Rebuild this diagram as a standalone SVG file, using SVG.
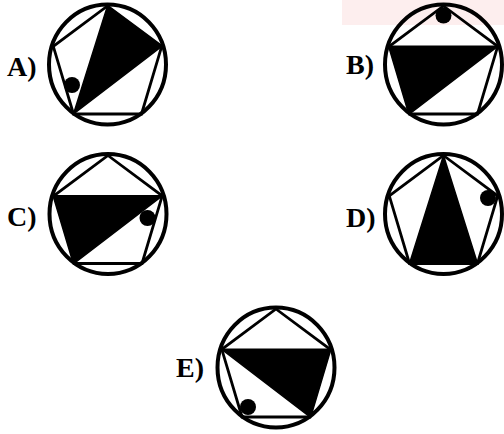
<svg xmlns="http://www.w3.org/2000/svg" xmlns:xlink="http://www.w3.org/1999/xlink" width="504" height="434" viewBox="0 0 504 434">
<style>
.ring{fill:none;stroke:#000;stroke-width:4}
.pent{fill:none;stroke:#000;stroke-width:2.8;stroke-linejoin:miter}
.blk{fill:#000;stroke:#000;stroke-width:1.5;stroke-linejoin:round}
.dot{fill:#000}
.lbl{font-family:"Liberation Serif","Times New Roman",serif;font-weight:bold;font-size:28px;fill:#000}
</style>
<defs>
<g id="frame">
<ellipse class="ring" cx="0" cy="0" rx="58.5" ry="60"/>
<polygon class="pent" points="0,-58.5 54.2,-18.2 34,49.5 -34,49.5 -54.2,-18.2"/>
</g>
</defs>
<rect x="342" y="0" width="162" height="25" fill="#fdeeee"/>
<g id="fig-a" transform="translate(107.5,64.5)">
<polygon class="blk" points="0,-58.5 54.2,-18.2 -34,49.5"/>
<use xlink:href="#frame"/>
<circle class="dot" cx="-35.5" cy="20.5" r="8"/>
</g>
<g id="fig-b" transform="translate(443.5,64.5)">
<polygon class="blk" points="-54.2,-18.2 54.2,-18.2 -34,49.5"/>
<use xlink:href="#frame"/>
<circle class="dot" cx="0" cy="-49" r="8"/>
</g>
<g id="fig-c" transform="translate(108,214)">
<polygon class="blk" points="-54.2,-18.2 54.2,-18.2 -34,49.5"/>
<use xlink:href="#frame"/>
<circle class="dot" cx="39.5" cy="4" r="8"/>
</g>
<g id="fig-d" transform="translate(443.5,214)">
<polygon class="blk" points="0,-58.5 -34,49.5 34,49.5"/>
<use xlink:href="#frame"/>
<circle class="dot" cx="44.5" cy="-16" r="8"/>
</g>
<g id="fig-e" transform="translate(276,367.5)">
<polygon class="blk" points="-54.2,-18.2 54.2,-18.2 34,49.5"/>
<use xlink:href="#frame"/>
<circle class="dot" cx="-28" cy="39.5" r="8"/>
</g>
<g id="labels">
<text class="lbl" x="7" y="76">A)</text>
<text class="lbl" x="346" y="74">B)</text>
<text class="lbl" x="7" y="226">C)</text>
<text class="lbl" x="346" y="227">D)</text>
<text class="lbl" x="176" y="377">E)</text>
</g>
<g id="connectors"/>
</svg>
